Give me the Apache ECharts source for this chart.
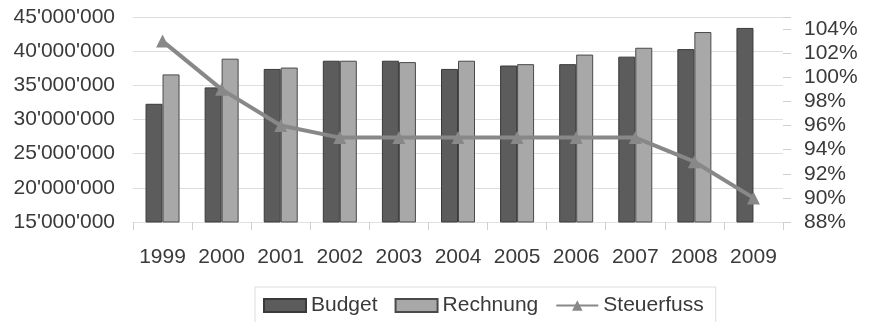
<!DOCTYPE html>
<html>
<head>
<meta charset="utf-8">
<script src="https://cdn.jsdelivr.net/npm/echarts@6/dist/echarts.min.js"></script>
<style>
  html, body { margin: 0; padding: 0; background: #ffffff; }
  #chart { width: 869px; height: 322px; }
</style>
</head>
<body>
<div id="chart"></div>
<script>
// Jahre
const years = ['1999', '2000', '2001', '2002', '2003', '2004', '2005', '2006', '2007', '2008', '2009'];
// Budget in CHF
const budget = [32300000, 34700000, 37400000, 38600000, 38600000, 37400000, 37900000, 38100000, 39200000, 40300000, 43400000];
// Rechnung in CHF (2009 noch offen)
const rechnung = [36600000, 38900000, 37600000, 38600000, 38400000, 38600000, 38100000, 39500000, 40500000, 42800000, null];
// Steuerfuss in Prozent
const steuerfuss = [1.03, 0.99, 0.96, 0.95, 0.95, 0.95, 0.95, 0.95, 0.95, 0.93, 0.90];

const FONT = "'Liberation Sans', Arial, sans-serif";
const TXT = '#3a3a3a';

function fmtCHF(v) {
  return String(Math.round(v)).replace(/\B(?=(\d{3})+(?!\d))/g, "'");
}

const chart = echarts.init(document.getElementById('chart'), null, { renderer: 'canvas' });
chart.setOption({
  animation: false,
  backgroundColor: '#ffffff',
  textStyle: { fontFamily: FONT },
  grid: { left: 133, right: 86, top: 17, bottom: 100, containLabel: false },
  legend: {
    left: 255, top: 287,
    padding: [8, 12, 8, 8],
    borderColor: '#dcdcdc', borderWidth: 1,
    itemWidth: 42, itemHeight: 13, itemGap: 17,
    textStyle: { fontFamily: FONT, fontSize: 21, color: TXT },
    data: [
      { name: 'Budget', icon: 'rect' },
      { name: 'Rechnung', icon: 'rect' },
      { name: 'Steuerfuss' }
    ]
  },
  xAxis: {
    type: 'category',
    data: years,
    boundaryGap: true,
    axisLine: { show: true, lineStyle: { color: '#e2e2e2', width: 1 } },
    axisTick: { show: true, length: 8, lineStyle: { color: '#d0d0d0' } },
    axisLabel: { interval: 0, fontFamily: FONT, fontSize: 21, color: TXT, margin: 25 }
  },
  yAxis: [
    {
      type: 'value',
      min: 15000000, max: 45000000, interval: 5000000,
      axisLine: { show: false },
      axisTick: { show: false },
      splitLine: { show: true, lineStyle: { color: '#dedede', width: 1 } },
      axisLabel: { fontFamily: FONT, fontSize: 21, color: TXT, margin: 18, formatter: fmtCHF }
    },
    {
      type: 'value',
      min: 0.88, max: 1.05, interval: 0.02,
      position: 'right',
      axisLine: { show: false },
      axisTick: { show: true, inside: false, length: 8, lineStyle: { color: '#d0d0d0' } },
      splitLine: { show: false },
      axisLabel: {
        fontFamily: FONT, fontSize: 21, color: TXT, margin: 21,
        formatter: function (v) {
          const p = Math.round(v * 100);
          return p % 2 === 0 && p <= 104 ? p + '%' : '';
        }
      }
    }
  ],
  series: [
    {
      name: 'Budget', type: 'bar', data: budget,
      barWidth: 17, barGap: '0%',
      itemStyle: { color: '#5c5c5c', borderColor: '#3a3a3a', borderWidth: 1 }
    },
    {
      name: 'Rechnung', type: 'bar', data: rechnung,
      barWidth: 17, barGap: '0%',
      itemStyle: { color: '#a8a8a8', borderColor: '#4a4a4a', borderWidth: 1 }
    },
    {
      name: 'Steuerfuss', type: 'line', yAxisIndex: 1, data: steuerfuss,
      symbol: 'triangle', symbolSize: 13, z: 5,
      lineStyle: { color: '#888888', width: 4 },
      itemStyle: { color: '#888888' }
    }
  ]
});
</script>
</body>
</html>
